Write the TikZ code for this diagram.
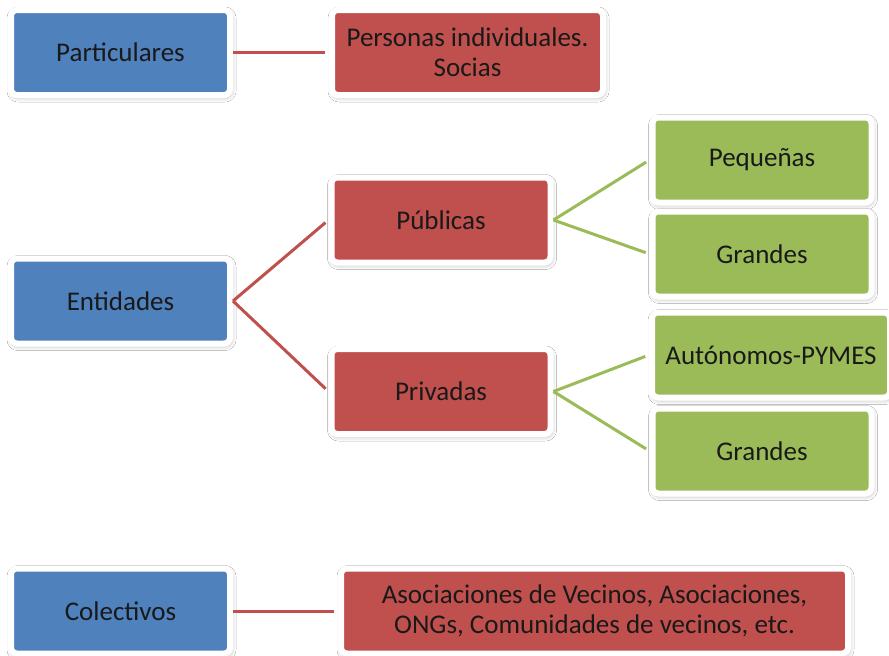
\documentclass[tikz,border=0pt]{standalone}
\usepackage{fontspec}
\setmainfont{Carlito}
\usepackage[dvipsnames]{xcolor}
\usetikzlibrary{positioning,shadows.blur}
\definecolor{boxblue}{HTML}{4F81BD}
\definecolor{boxred}{HTML}{C0504D}
\definecolor{boxgreen}{HTML}{9BBB59}

\begin{document}
\begin{tikzpicture}[-,shorten >=4pt,shorten <=0pt,line width=3pt,
    main node/.style={rectangle,rounded corners=6pt,draw=white,line width=6pt,inner sep=0pt,
        minimum width=219pt,minimum height=85pt,align=center,text=black!90,
        font=\fontsize{27}{30}\selectfont,
        blur shadow={shadow xshift=1pt,shadow yshift=-2pt,shadow blur radius=5pt,shadow opacity=35}},
    blue node/.style={main node,fill=boxblue},
    red node/.style={main node,fill=boxred},
    green node/.style={main node,fill=boxgreen}]

            \useasboundingbox[fill=white] (0pt,0pt) rectangle (889pt,-656pt);

            \node[blue node] (1) at (120.5pt,-52.5pt) {Particulares};
            \node[red node, minimum width=271pt] (2) [right of = 1, node distance=347pt] {Personas individuales.\\Socias};
            \node[blue node] (3) [below of = 1, node distance=248.5pt] {Entidades};
            \node[red node] (4) at (441pt,-220pt) {Públicas};
            \node[red node] (5) [below of = 4, node distance=171.5pt] {Privadas};
            \node[green node] (6) at (762pt,-160pt) {Pequeñas};
            \node[green node] (7) [below of = 6, node distance=94pt] {Grandes};
            \node[green node, minimum width=238pt] (8) at (771pt,-355pt) {Autónomos-PYMES};
            \node[green node] (9) [below of = 7, node distance=197pt] {Grandes};
            \node[blue node] (10) [below of = 3, node distance=310pt] {Colectivos};
            \node[red node, minimum width=507pt] (11) [right of = 10, node distance=474pt] {Asociaciones de Vecinos, Asociaciones,\\ONGs, Comunidades de vecinos, etc.};

            \draw[-, boxred] (1) to (2);
            \draw[-, boxred] (3.east) to (4.west);
            \draw[-, boxred] (3.east) to (5.west);
            \draw[-, boxgreen] (4.east) to (6.west);
            \draw[-, boxgreen] (4.east) to (7.west);
            \draw[-, boxgreen] (5.east) to (8.west);
            \draw[-, boxgreen] (5.east) to (9.west);
            \draw[-, boxred] (10) to (11);

            ;
        \end{tikzpicture}
\end{document}
